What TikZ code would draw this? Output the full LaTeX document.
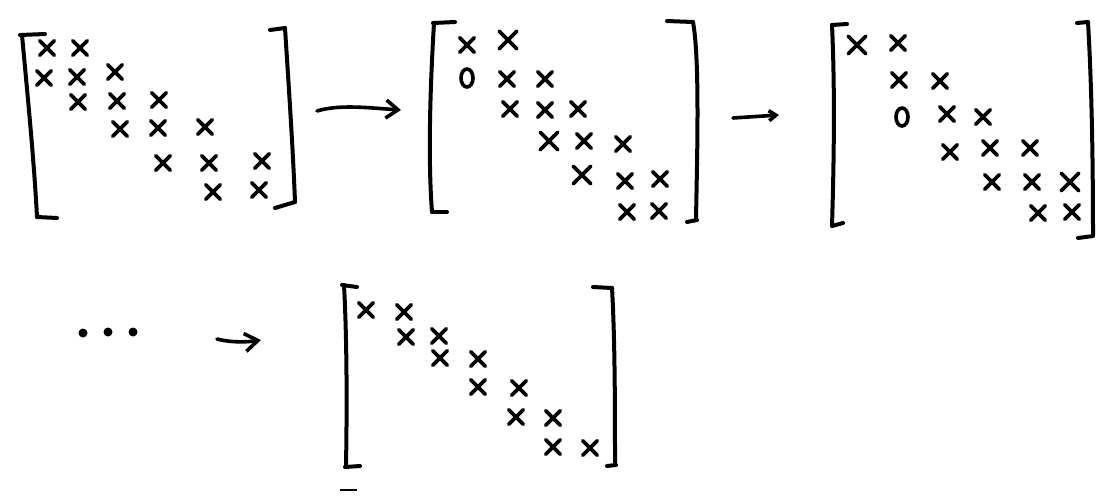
\documentclass[tikz,border=0pt]{standalone}
\usetikzlibrary{shapes.misc,shapes.geometric,arrows.meta}
\begin{document}
\begin{tikzpicture}[x=1pt,y=-1pt,
  br/.style={line width=4pt,line cap=round,line join=round},
  xm/.style={cross out,draw,minimum size=11pt,inner sep=0pt,line width=3.6pt,line cap=round},
  xb/.style={xm,minimum size=14pt},
  zr/.style={ellipse,draw,minimum width=12pt,minimum height=18pt,inner sep=0pt,line width=3.6pt},
  dotm/.style={circle,fill,minimum size=9pt,inner sep=0pt},
  arr/.style={line width=3.6pt,line cap=round},
]
\useasboundingbox (0,0) rectangle (1104,496);

% ---------- matrix 1 ----------
\draw[br] (20,35) -- (45,34);
\draw[br] (22,35) .. controls (28,100) and (34,160) .. (37,217);
\draw[br] (37,217) -- (57,218);
\draw[br] (270,30) -- (285,28);
\draw[br] (285,28) .. controls (289,90) and (293,150) .. (295,202);
\draw[br] (275,208) -- (295,202);
\node[xm] (p11) at (47,48) {};
\node[xm] (p12) at (80,48) {};
\node[xm] (p21) at (44,78) {};
\node[xm] (p22) at (77,77) {};
\node[xm] (p23) at (115,72) {};
\node[xm] (p32) at (78,102) {};
\node[xm] (p33) at (117,101) {};
\node[xm] (p34) at (159,100) {};
\node[xm] (p43) at (120,129) {};
\node[xm] (p44) at (158,128) {};
\node[xm] (p45) at (205,127) {};
\node[xm] (p54) at (163,163) {};
\node[xm] (p55) at (209,163) {};
\node[xm] (p56) at (262,161) {};
\node[xm] (p65) at (213,192) {};
\node[xm] (p66) at (259,190) {};

% ---------- arrow 1 ----------
\coordinate (a1s) at (317,111);
\coordinate (a1e) at (401,110);
\draw[arr,-{Straight Barb[length=12pt,width=18pt]}] (a1s) .. controls (340,104) and (370,108) .. (a1e);

% ---------- matrix 2 ----------
\draw[br] (433,23) -- (455,22);
\draw[br] (434,23) .. controls (430,90) and (428,160) .. (432,212);
\draw[br] (432,212) -- (447,212);
\draw[br] (667,21) -- (693,22);
\draw[br] (693,22) .. controls (700,60) and (697,160) .. (696,220);
\draw[br] (687,222) -- (697,220);
\node[xm] (q11) at (467,45) {};
\node[xb] (q12) at (508,40) {};
\node[zr] (q21) at (467,78) {};
\node[xm] (q22) at (507,79) {};
\node[xm] (q23) at (545,79) {};
\node[xm] (q32) at (510,109) {};
\node[xm] (q33) at (545,110) {};
\node[xm] (q34) at (578,109) {};
\node[xb] (q43) at (549,141) {};
\node[xm] (q44) at (584,141) {};
\node[xm] (q45) at (623,144) {};
\node[xb] (q53) at (582,175) {};
\node[xm] (q55) at (625,181) {};
\node[xm] (q56) at (660,179) {};
\node[xm] (q65) at (627,212) {};
\node[xm] (q66) at (659,211) {};

% ---------- arrow 2 ----------
\coordinate (a2s) at (733,118);
\coordinate (a2e) at (779,115);
\draw[arr,-{Straight Barb[length=7pt,width=10pt]}] (a2s) -- (a2e);

% ---------- matrix 3 ----------
\draw[br] (832,25) -- (847,24);
\draw[br] (832,25) .. controls (835,90) and (834,160) .. (832,226);
\draw[br] (832,226) -- (843,223);
\draw[br] (1077,23) -- (1088,22);
\draw[br] (1088,22) .. controls (1092,90) and (1093,170) .. (1093,235);
\draw[br] (1078,238) -- (1093,236);
\node[xb] (r11) at (857,45) {};
\node[xm] (r12) at (898,43) {};
\node[xm] (r22) at (899,80) {};
\node[xm] (r23) at (940,81) {};
\node[zr] (r32) at (902,117) {};
\node[xm] (r33) at (947,114) {};
\node[xm] (r34) at (983,117) {};
\node[xm] (r43) at (950,152) {};
\node[xm] (r44) at (990,148) {};
\node[xm] (r45) at (1030,148) {};
\node[xm] (r54) at (992,182) {};
\node[xm] (r55) at (1032,182) {};
\node[xb] (r56) at (1070,182) {};
\node[xm] (r65) at (1038,213) {};
\node[xm] (r66) at (1072,212) {};

% ---------- dots and arrow 3 ----------
\node[dotm] (d1) at (83,333) {};
\node[dotm] (d2) at (108,332) {};
\node[dotm] (d3) at (133,332) {};
\coordinate (a3s) at (217,339);
\coordinate (a3e) at (261,340);
\draw[arr,-{Straight Barb[length=13pt,width=18pt]}] (a3s) .. controls (232,343) and (248,342) .. (a3e);

% ---------- matrix 4 ----------
\draw[br] (342,285) -- (357,287);
\draw[br] (344,285) .. controls (347,340) and (347,410) .. (346,466);
\draw[br] (345,467) -- (360,466);
\draw[line width=2.6pt] (340,490) -- (357,490);
\draw[br] (593,287) -- (612,288);
\draw[br] (612,288) .. controls (615,340) and (615,410) .. (615,465);
\draw[br] (607,466) -- (616,465);
\node[xm] (s11) at (366,310) {};
\node[xm] (s12) at (404,312) {};
\node[xm] (s22) at (406,337) {};
\node[xm] (s23) at (439,336) {};
\node[xm] (s33) at (440,358) {};
\node[xm] (s34) at (478,359) {};
\node[xm] (s44) at (478,387) {};
\node[xm] (s45) at (519,388) {};
\node[xm] (s55) at (516,417) {};
\node[xm] (s56) at (553,418) {};
\node[xm] (s66) at (553,447) {};
\node[xm] (s67) at (590,448) {};
\end{tikzpicture}
\end{document}
